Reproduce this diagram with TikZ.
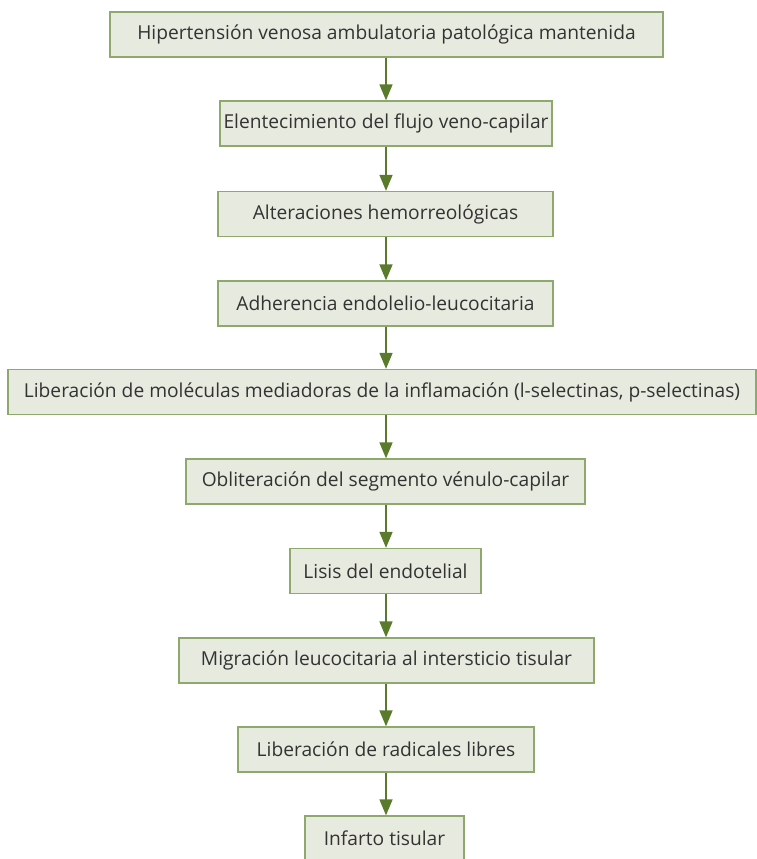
\documentclass[tikz,border=0pt]{standalone}
\usepackage{fontspec}
\setmainfont{Open Sans}
\usetikzlibrary{arrows.meta}
\definecolor{boxfill}{HTML}{E7EBDF}
\definecolor{boxline}{HTML}{8FA86E}
\definecolor{arrowc}{HTML}{5B7B2C}
\definecolor{txt}{HTML}{333333}
\tikzset{
  stepbox/.style={draw=boxline, fill=boxfill, line width=1.3pt, inner sep=0pt,
    minimum height=45pt, text=txt, font=\fontsize{19.2}{23}\selectfont, anchor=center},
  flowarrow/.style={draw=arrowc, line width=1.6pt, -{Triangle[width=13pt,length=16pt]}, shorten >=0pt}
}
\begin{document}
\begin{tikzpicture}[x=1pt,y=-1pt]
\useasboundingbox (0,0) rectangle (757,859);
\node[stepbox, minimum width=553pt] (b1) at (386.5,34.5) {Hipertensión venosa ambulatoria patológica mantenida};
\node[stepbox, minimum width=332pt] (b2) at (386,123.5) {Elentecimiento del flujo veno-capilar};
\node[stepbox, minimum width=335pt] (b3) at (385.5,214) {Alteraciones hemorreológicas};
\node[stepbox, minimum width=335pt] (b4) at (385.5,303.5) {Adherencia endolelio-leucocitaria};
\node[stepbox, minimum width=748pt] (b5) at (382,392) {Liberación de moléculas mediadoras de la inflamación (l-selectinas, p-selectinas)};
\node[stepbox, minimum width=399pt] (b6) at (385.5,481.5) {Obliteración del segmento vénulo-capilar};
\node[stepbox, minimum width=191pt] (b7) at (385.5,571) {Lisis del endotelial};
\node[stepbox, minimum width=415pt] (b8) at (386.5,660.5) {Migración leucocitaria al intersticio tisular};
\node[stepbox, minimum width=296pt] (b9) at (386,749.5) {Liberación de radicales libres};
\node[stepbox, minimum width=159pt] (b10) at (384.5,838.5) {Infarto tisular};
\foreach \a/\b in {b1/b2,b2/b3,b3/b4,b4/b5,b5/b6,b6/b7,b7/b8,b8/b9,b9/b10}
  \draw[flowarrow] (\a.south -| 386,0) -- (\b.north -| 386,0);
\end{tikzpicture}
\end{document}
